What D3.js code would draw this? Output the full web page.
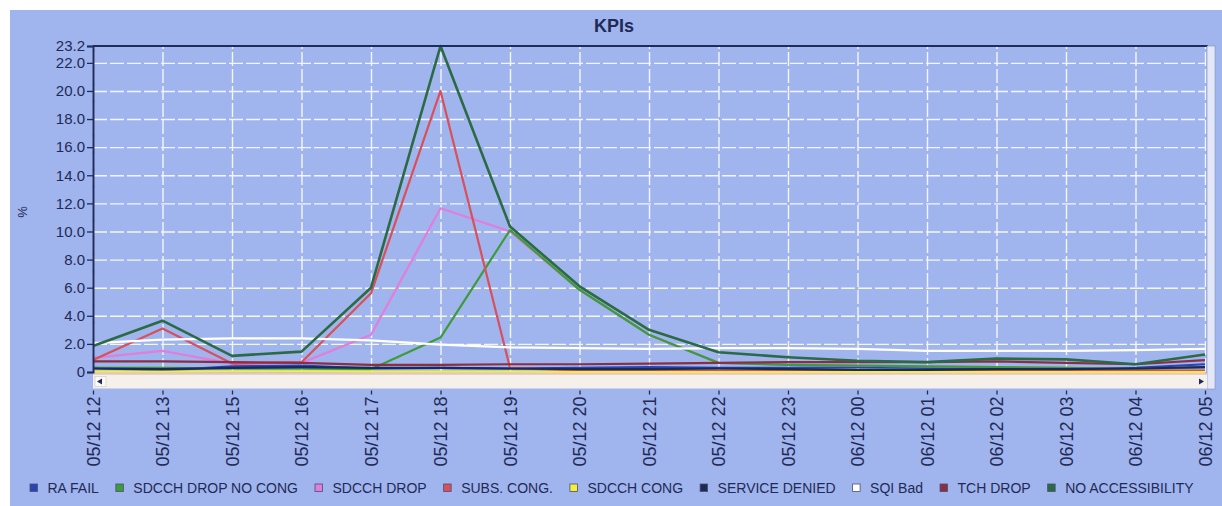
<!DOCTYPE html>
<html>
<head>
<meta charset="utf-8">
<script src="https://cdn.jsdelivr.net/npm/d3@7"></script>
<style>
  body { margin: 0; background: #fff; }
  svg { display: block; font-family: "Liberation Sans", Arial, sans-serif; }
  .axis text { fill: #1f2a55; }
  .grid line { stroke: #f4f6ff; stroke-width: 1.4; stroke-dasharray: 14,3; }
  .grid .domain { display: none; }
</style>
</head>
<body>
<svg id="chart"></svg>
<script>
// categories (hours) shown on the x axis - 05/12 14 is not in the source
const categories = ["05/12 12", "05/12 13", "05/12 15", "05/12 16", "05/12 17", "05/12 18",
  "05/12 19", "05/12 20", "05/12 21", "05/12 22", "05/12 23", "06/12 00", "06/12 01",
  "06/12 02", "06/12 03", "06/12 04", "06/12 05"];

// KPI series, in %
const raFail        = [0.30, 0.10, 0.40, 0.45, 0.25, 0.30, 0.25, 0.30, 0.35, 0.30, 0.30, 0.35, 0.30, 0.25, 0.25, 0.30, 0.55];
const sdcchNoCong   = [0.30, 0.30, 0.25, 0.25, 0.20, 2.45, 10.1, 5.85, 2.65, 0.65, 0.50, 0.45, 0.40, 0.35, 0.30, 0.20, 0.35];
const sdcchDrop     = [1.00, 1.50, 0.60, 0.65, 2.65, 11.65, 10.0, 5.85, 2.65, 0.65, 0.50, 0.45, 0.40, 0.35, 0.30, 0.20, 0.35];
const subsCong      = [0.85, 3.10, 0.60, 0.70, 5.60, 20.0, 0.30, 0.10, 0.10, 0.10, 0.10, 0.10, 0.10, 0.10, 0.10, 0.10, 0.10];
const sdcchCong     = [0.02, 0.02, 0.05, 0.05, 0.02, 0.02, 0.02, 0, 0, 0, 0, 0, 0, 0, 0, 0, 0];
const serviceDenied = [0.25, 0.20, 0.30, 0.35, 0.30, 0.30, 0.25, 0.20, 0.20, 0.25, 0.20, 0.15, 0.15, 0.20, 0.20, 0.25, 0.35];
const sqiBad        = [2.05, 2.30, 2.40, 2.40, 2.25, 1.95, 1.75, 1.70, 1.65, 1.70, 1.70, 1.65, 1.50, 1.50, 1.50, 1.55, 1.65];
const tchDrop       = [0.75, 0.75, 0.70, 0.65, 0.50, 0.50, 0.55, 0.55, 0.60, 0.65, 0.70, 0.70, 0.70, 0.75, 0.65, 0.55, 0.85];
const noAccess      = [1.85, 3.65, 1.15, 1.45, 6.00, 23.2, 10.35, 6.10, 3.00, 1.40, 1.05, 0.80, 0.70, 0.95, 0.90, 0.55, 1.25];

const seriesNames = ["RA FAIL", "SDCCH DROP NO CONG", "SDCCH DROP", "SUBS. CONG.", "SDCCH CONG",
  "SERVICE DENIED", "SQI Bad", "TCH DROP", "NO ACCESSIBILITY"];
const seriesValues = [raFail, sdcchNoCong, sdcchDrop, subsCong, sdcchCong, serviceDenied, sqiBad, tchDrop, noAccess];
const seriesColors = ["#2a44b4", "#3c9c3a", "#e27ddb", "#d8505a", "#f4ef3a", "#1c2a58", "#ffffff", "#8a2f42", "#2c6a44"];
// pink goes under the green so it hides where they are equal
const drawOrder = [0, 2, 1, 3, 4, 5, 6, 7, 8];

const yTicks = [0, 2, 4, 6, 8, 10, 12, 14, 16, 18, 20, 22, 23.2];
const yMax = 23.2;

class KpiChart {
  constructor(_config, _data) {
    this.config = {
      parentElement: _config.parentElement,
      containerWidth: _config.containerWidth || 1222,
      containerHeight: _config.containerHeight || 506,
      margin: _config.margin || {top: 46, right: 17, bottom: 134, left: 93}
    };
    this.data = _data;
    this.initVis();
  }

  initVis() {
    let vis = this;
    vis.width = vis.config.containerWidth - vis.config.margin.left - vis.config.margin.right;
    vis.height = vis.config.containerHeight - vis.config.margin.top - vis.config.margin.bottom;

    vis.xScale = d3.scalePoint().domain(categories).range([0, vis.width]);
    vis.yScale = d3.scaleLinear().domain([0, yMax]).range([vis.height, 0]);

    vis.svg = d3.select(vis.config.parentElement)
        .attr('width', vis.config.containerWidth)
        .attr('height', vis.config.containerHeight);

    // blue panel behind everything
    vis.svg.append('rect')
        .attr('x', 10).attr('y', 10)
        .attr('width', vis.config.containerWidth - 10)
        .attr('height', vis.config.containerHeight - 10)
        .attr('fill', '#a0b4ee');

    vis.svg.append('text')
        .attr('x', 614).attr('y', 31.5)
        .attr('text-anchor', 'middle')
        .attr('font-size', 18).attr('font-weight', 'bold')
        .attr('fill', '#1f2a55')
        .text('KPIs');

    vis.svg.append('text')
        .attr('transform', 'translate(27,212) rotate(-90)')
        .attr('text-anchor', 'middle')
        .attr('font-size', 13)
        .attr('fill', '#1f2a55')
        .text('%');

    vis.chart = vis.svg.append('g')
        .attr('transform', `translate(${vis.config.margin.left},${vis.config.margin.top})`);

    // gridlines
    vis.chart.append('g')
        .attr('class', 'grid')
        .call(d3.axisLeft(vis.yScale).tickValues(yTicks.slice(1, -1)).tickSize(-vis.width).tickFormat(''));
    vis.chart.append('g')
        .attr('class', 'grid')
        .attr('transform', `translate(0,${vis.height})`)
        .call(d3.axisBottom(vis.xScale).tickSize(-vis.height).tickFormat(''));

    vis.linesG = vis.chart.append('g');

    // top frame line
    vis.chart.append('line')
        .attr('x1', 0).attr('x2', vis.width + 3)
        .attr('y1', vis.yScale(yMax)).attr('y2', vis.yScale(yMax))
        .attr('stroke', '#1f2d5c').attr('stroke-width', 2);

    // right edge strip
    vis.chart.append('rect')
        .attr('x', vis.width + 2).attr('y', 0)
        .attr('width', 8).attr('height', vis.height + 17)
        .attr('fill', '#e4e8f6').attr('stroke', '#7f8fc0').attr('stroke-width', 0.6);

    // horizontal scroll bar under the plot
    const sb = vis.chart.append('g').attr('transform', `translate(0,${vis.height + 1.5})`);
    sb.append('rect')
        .attr('x', 0).attr('y', 0).attr('width', vis.width + 2).attr('height', 15)
        .attr('fill', '#f5f1ea');
    sb.append('line')
        .attr('x1', 0).attr('x2', vis.width + 2).attr('y1', 0.5).attr('y2', 0.5)
        .attr('stroke', '#e8c0cf').attr('stroke-width', 1.5);
    sb.append('rect')
        .attr('x', 2).attr('y', 3).attr('width', 11).attr('height', 10)
        .attr('fill', '#fbfaf6').attr('stroke', '#c8c8c8').attr('stroke-width', 0.6);
    sb.append('path').attr('d', 'M4,8 L9,5 L9,11 Z').attr('fill', '#1f2a55');
    sb.append('path').attr('d', `M${vis.width - 6},5 L${vis.width - 1},8 L${vis.width - 6},11 Z`).attr('fill', '#1f2a55');

    vis.yAxis = d3.axisLeft(vis.yScale)
        .tickValues(yTicks)
        .tickSize(6)
        .tickPadding(2)
        .tickFormat(d => d === 0 ? '0' : d.toFixed(1));
    vis.yAxisG = vis.chart.append('g').attr('class', 'axis y-axis');

    vis.xAxis = d3.axisBottom(vis.xScale).tickSize(4);
    vis.xAxisG = vis.chart.append('g')
        .attr('class', 'axis x-axis')
        .attr('transform', `translate(0,${vis.height + 18.5})`);

    vis.legendG = vis.svg.append('g').attr('transform', 'translate(30,488)');
  }

  updateVis() {
    let vis = this;
    vis.line = d3.line()
        .x((d, i) => vis.xScale(categories[i]))
        .y(d => vis.yScale(d));
    vis.renderVis();
  }

  renderVis() {
    let vis = this;

    vis.linesG.selectAll('.kpi-line')
        .data(drawOrder.map(i => vis.data[i]))
        .join('path')
        .attr('class', 'kpi-line')
        .attr('fill', 'none')
        .attr('stroke', d => d.color)
        .attr('stroke-width', d => d.name === 'NO ACCESSIBILITY' ? 2.6 : 2.2)
        .attr('stroke-linejoin', 'round')
        .attr('d', d => vis.line(d.values));

    vis.yAxisG.call(vis.yAxis)
        .call(g => g.select('.domain').attr('stroke', '#1f2d5c').attr('stroke-width', 2))
        .call(g => g.selectAll('.tick line').attr('stroke', '#1f2d5c').attr('stroke-width', 1.3))
        .call(g => g.selectAll('.tick text').attr('font-size', 15).attr('font-family', null));

    vis.xAxisG.call(vis.xAxis)
        .call(g => g.select('.domain').remove())
        .call(g => g.selectAll('.tick line').attr('stroke', '#1f2d5c').attr('stroke-width', 1.3))
        .call(g => g.selectAll('.tick text')
            .attr('font-size', 18)
            .attr('font-family', null)
            .attr('transform', 'rotate(-90)')
            .attr('text-anchor', 'end')
            .attr('x', -6).attr('y', 0)
            .attr('dy', '0.35em'));

    // legend laid out left to right
    let xPos = 0;
    vis.data.forEach(d => {
      const item = vis.legendG.append('g').attr('transform', `translate(${xPos},0)`);
      item.append('rect')
          .attr('x', 0).attr('y', -4).attr('width', 7.5).attr('height', 7.5)
          .attr('fill', d.color).attr('stroke', '#4a4f70').attr('stroke-width', 0.8);
      const t = item.append('text')
          .attr('x', 17.5).attr('y', 0).attr('dy', '0.35em')
          .attr('font-size', 14)
          .attr('fill', '#1f2a55')
          .text(d.name);
      xPos += 17.5 + t.node().getComputedTextLength() + 17;
    });
  }
}

const data = seriesNames.map((name, i) => ({name: name, values: seriesValues[i], color: seriesColors[i]}));
const kpiChart = new KpiChart({parentElement: '#chart'}, data);
kpiChart.updateVis();
</script>
</body>
</html>
